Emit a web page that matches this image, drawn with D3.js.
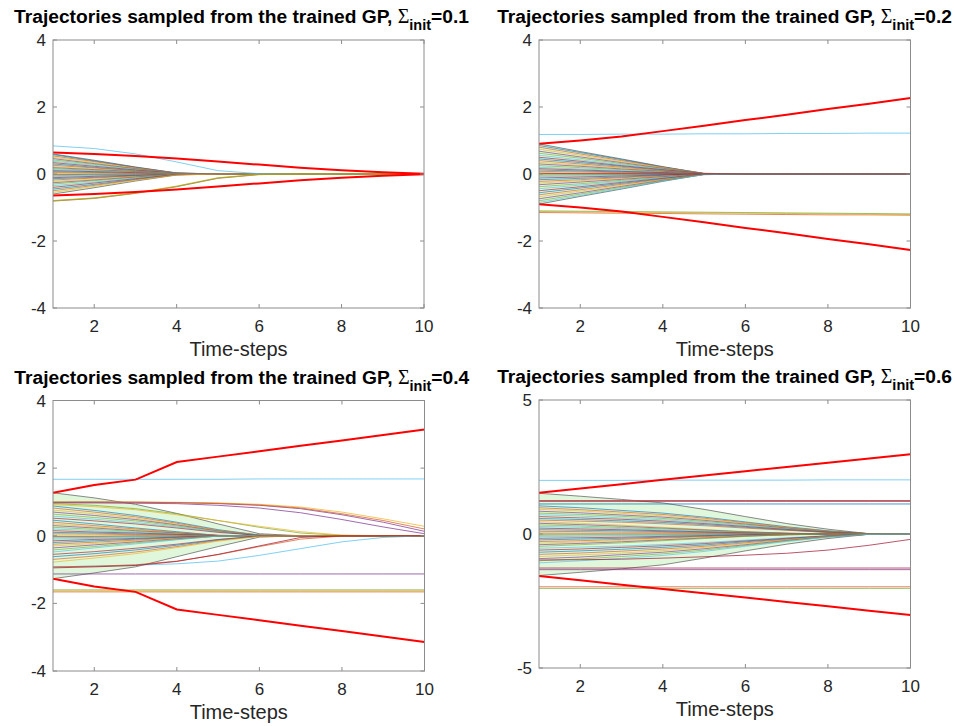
<!DOCTYPE html>
<html>
<head>
<meta charset="utf-8">
<script src="https://cdn.jsdelivr.net/npm/d3@7"></script>
<style>
  body { margin: 0; background: #fff; }
  svg { display: block; }
  text { font-family: "Liberation Sans", Arial, Helvetica, sans-serif; }
</style>
</head>
<body>
<svg id="fig" width="955" height="726"></svg>
<script>
// ---- shared axis data ----
const timeSteps = [1, 2, 3, 4, 5, 6, 7, 8, 9, 10];
const xTicks = [2, 4, 6, 8, 10];
const sigmaInit = ["0.1", "0.2", "0.4", "0.6"];
const yTicksA = [-4, -2, 0, 2, 4];
const yTicksB = [-5, 0, 5];

// ---- panel 1: Sigma_init = 0.1 ----
const p1Bundle = [
  [.58,.39,.2,.03,0,0,0,0,0,0],
  [.54,.37,.19,.03,0,0,0,0,0,0],
  [.5,.34,.17,.02,0,0,0,0,0,0],
  [.46,.31,.16,.02,0,0,0,0,0,0],
  [.42,.29,.15,.02,0,0,0,0,0,0],
  [.38,.26,.13,.02,0,0,0,0,0,0],
  [.34,.23,.12,.02,0,0,0,0,0,0],
  [.3,.2,.1,.01,0,0,0,0,0,0],
  [.26,.18,.09,.01,0,0,0,0,0,0],
  [.22,.15,.08,.01,0,0,0,0,0,0],
  [.19,.13,.07,.01,0,0,0,0,0,0],
  [.16,.11,.06,.01,0,0,0,0,0,0],
  [.13,.09,.05,.01,0,0,0,0,0,0],
  [.1,.07,.04,0,0,0,0,0,0,0],
  [.07,.05,.02,0,0,0,0,0,0,0],
  [.04,.03,.01,0,0,0,0,0,0,0],
  [.01,.01,0,0,0,0,0,0,0,0],
  [-.02,-.01,-.01,0,0,0,0,0,0,0],
  [-.05,-.03,-.02,0,0,0,0,0,0,0],
  [-.08,-.05,-.03,0,0,0,0,0,0,0],
  [-.11,-.07,-.04,-.01,0,0,0,0,0,0],
  [-.14,-.1,-.05,-.01,0,0,0,0,0,0],
  [-.18,-.12,-.06,-.01,0,0,0,0,0,0],
  [-.22,-.15,-.08,-.01,0,0,0,0,0,0],
  [-.26,-.18,-.09,-.01,0,0,0,0,0,0],
  [-.3,-.2,-.1,-.01,0,0,0,0,0,0],
  [-.35,-.24,-.12,-.02,0,0,0,0,0,0],
  [-.4,-.27,-.14,-.02,0,0,0,0,0,0],
  [-.45,-.31,-.16,-.02,0,0,0,0,0,0],
  [-.5,-.34,-.17,-.02,0,0,0,0,0,0],
  [-.55,-.37,-.19,-.03,0,0,0,0,0,0]
];
const p1Extra = [
  [.84,.76,.6,.36,.1,.01,0,0,0,0],
  [-.81,-.73,-.58,-.38,-.13,-.02,0,0,0,0],
  [-.79,-.71,-.56,-.36,-.11,-.01,0,0,0,0],
  [-.8,-.72,-.57,-.37,-.12,-.01,0,0,0,0]
];
const p1ExtraColor = [5, 1, 2, 4];
const p1RedUpper = [.64,.6,.54,.46,.37,.28,.19,.11,.05,.01];
const p1RedLower = [-.64,-.6,-.54,-.46,-.37,-.28,-.19,-.11,-.05,-.01];
const p1FillUpper = [.6,.41,.21,.03,0,0,0,0,0,0];
const p1FillLower = [-.6,-.41,-.21,-.03,0,0,0,0,0,0];

// ---- panel 2: Sigma_init = 0.2 ----
const p2Bundle = [
  [.85,.64,.43,.21,.02,0,0,0,0,0],
  [.8,.6,.4,.2,.02,0,0,0,0,0],
  [.74,.56,.37,.19,.01,0,0,0,0,0],
  [.68,.51,.34,.17,.01,0,0,0,0,0],
  [.62,.47,.31,.16,.01,0,0,0,0,0],
  [.56,.42,.28,.14,.01,0,0,0,0,0],
  [.5,.38,.25,.13,.01,0,0,0,0,0],
  [.45,.34,.23,.11,.01,0,0,0,0,0],
  [.4,.3,.2,.1,.01,0,0,0,0,0],
  [.35,.26,.18,.09,.01,0,0,0,0,0],
  [.3,.23,.15,.08,.01,0,0,0,0,0],
  [.25,.19,.13,.06,0,0,0,0,0,0],
  [.2,.15,.1,.05,0,0,0,0,0,0],
  [.16,.12,.08,.04,0,0,0,0,0,0],
  [.12,.09,.06,.03,0,0,0,0,0,0],
  [.08,.06,.04,.02,0,0,0,0,0,0],
  [.04,.03,.02,.01,0,0,0,0,0,0],
  [0,0,0,0,0,0,0,0,0,0],
  [-.04,-.03,-.02,-.01,0,0,0,0,0,0],
  [-.08,-.06,-.04,-.02,0,0,0,0,0,0],
  [-.12,-.09,-.06,-.03,0,0,0,0,0,0],
  [-.17,-.13,-.09,-.04,0,0,0,0,0,0],
  [-.22,-.17,-.11,-.06,0,0,0,0,0,0],
  [-.27,-.2,-.14,-.07,0,0,0,0,0,0],
  [-.32,-.24,-.16,-.08,-.01,0,0,0,0,0],
  [-.38,-.29,-.19,-.1,-.01,0,0,0,0,0],
  [-.44,-.33,-.22,-.11,-.01,0,0,0,0,0],
  [-.5,-.38,-.25,-.13,-.01,0,0,0,0,0],
  [-.56,-.42,-.28,-.14,-.01,0,0,0,0,0],
  [-.62,-.47,-.31,-.16,-.01,0,0,0,0,0],
  [-.68,-.51,-.34,-.17,-.01,0,0,0,0,0],
  [-.74,-.56,-.37,-.19,-.01,0,0,0,0,0],
  [-.8,-.6,-.4,-.2,-.02,0,0,0,0,0],
  [-.85,-.64,-.43,-.21,-.02,0,0,0,0,0],
  [.02,.01,.01,0,0,0,0,0,0,0]
];
const p2Extra = [
  [1.18,1.18,1.19,1.19,1.2,1.2,1.21,1.21,1.22,1.22],
  [-1.15,-1.16,-1.17,-1.18,-1.19,-1.2,-1.21,-1.22,-1.22,-1.23],
  [-1.12,-1.13,-1.14,-1.15,-1.16,-1.17,-1.18,-1.19,-1.2,-1.21],
  [-1.1,-1.11,-1.12,-1.13,-1.14,-1.15,-1.16,-1.17,-1.18,-1.19]
];
const p2ExtraColor = [5, 1, 2, 4];
const p2RedUpper = [.9,1,1.12,1.28,1.44,1.61,1.77,1.94,2.1,2.27];
const p2RedLower = [-.9,-1,-1.12,-1.28,-1.44,-1.61,-1.77,-1.94,-2.1,-2.27];
const p2FillUpper = [.9,.67,.45,.22,.01,0,0,0,0,0];
const p2FillLower = [-.9,-.67,-.45,-.22,-.01,0,0,0,0,0];

// ---- panel 3: Sigma_init = 0.4 ----
const p3Bundle = [
  [.88,.75,.6,.4,.18,.02,0,0,0,0],
  [.82,.7,.56,.37,.16,.02,0,0,0,0],
  [.76,.65,.52,.34,.15,.02,0,0,0,0],
  [.7,.6,.48,.32,.14,.01,0,0,0,0],
  [.64,.54,.44,.29,.13,.01,0,0,0,0],
  [.58,.49,.39,.26,.12,.01,0,0,0,0],
  [.52,.44,.35,.23,.1,.01,0,0,0,0],
  [.46,.35,.23,.12,.01,0,0,0,0,0],
  [.4,.3,.2,.1,.01,0,0,0,0,0],
  [.35,.26,.18,.09,.01,0,0,0,0,0],
  [.3,.23,.15,.08,.01,0,0,0,0,0],
  [.25,.19,.13,.06,0,0,0,0,0,0],
  [.2,.15,.1,.05,0,0,0,0,0,0],
  [.15,.11,.08,.04,0,0,0,0,0,0],
  [.1,.08,.05,.03,0,0,0,0,0,0],
  [.06,.05,.03,.02,0,0,0,0,0,0],
  [.02,.02,.01,.01,0,0,0,0,0,0],
  [-.02,-.02,-.01,-.01,0,0,0,0,0,0],
  [-.06,-.05,-.03,-.02,0,0,0,0,0,0],
  [-.1,-.08,-.05,-.03,0,0,0,0,0,0],
  [-.15,-.11,-.08,-.04,0,0,0,0,0,0],
  [-.2,-.15,-.1,-.05,0,0,0,0,0,0],
  [-.25,-.19,-.13,-.06,0,0,0,0,0,0],
  [-.3,-.23,-.15,-.08,-.01,0,0,0,0,0],
  [-.36,-.27,-.18,-.09,-.01,0,0,0,0,0],
  [-.42,-.32,-.21,-.11,-.01,0,0,0,0,0],
  [-.48,-.36,-.24,-.12,-.01,0,0,0,0,0],
  [-.55,-.47,-.37,-.25,-.11,-.01,0,0,0,0],
  [-.62,-.53,-.42,-.28,-.12,-.01,0,0,0,0],
  [-.7,-.6,-.48,-.32,-.14,-.01,0,0,0,0],
  [-.78,-.66,-.53,-.35,-.16,-.02,0,0,0,0]
];
const p3Extra = [
  [1,1,.99,.98,.95,.9,.8,.62,.4,.13],
  [1,1,1,.99,.97,.93,.85,.7,.5,.28],
  [.98,.99,.99,.98,.96,.91,.82,.65,.45,.2],
  [.97,.97,.96,.95,.9,.82,.68,.48,.26,.06],
  [.95,.9,.8,.65,.45,.25,.08,.01,0,0],
  [.92,.86,.77,.62,.45,.28,.12,.02,0,0],
  [-.92,-.9,-.87,-.83,-.75,-.58,-.38,-.18,-.05,0],
  [-.92,-.9,-.86,-.75,-.56,-.32,-.1,-.01,0,0],
  [-.95,-.92,-.88,-.76,-.55,-.3,-.05,0,0,0],
  [1.67,1.67,1.67,1.67,1.67,1.68,1.68,1.68,1.68,1.68],
  [-1.13,-1.13,-1.13,-1.13,-1.13,-1.13,-1.13,-1.13,-1.13,-1.13],
  [-1.66,-1.66,-1.66,-1.66,-1.66,-1.66,-1.66,-1.66,-1.66,-1.66],
  [-1.63,-1.63,-1.63,-1.63,-1.63,-1.63,-1.63,-1.63,-1.63,-1.63],
  [-1.6,-1.6,-1.6,-1.6,-1.6,-1.6,-1.6,-1.6,-1.6,-1.6]
];
const p3ExtraColor = [3, 2, 1, 3, 4, 2, 5, 1, 6, 5, 3, 1, 2, 4];
const p3RedUpper = [1.27,1.5,1.66,2.18,2.34,2.5,2.66,2.82,2.98,3.14];
const p3RedLower = [-1.27,-1.5,-1.66,-2.18,-2.34,-2.5,-2.66,-2.82,-2.98,-3.14];
const p3FillUpper = [1.27,1.12,.93,.66,.35,.06,0,0,0,0];
const p3FillLower = [-1.27,-1.1,-.92,-.62,-.32,-.04,0,0,0,0];

// ---- panel 4: Sigma_init = 0.6 ----
const p4Bundle = [
  [1.05,.98,.88,.78,.63,.45,.27,.12,.01,0],
  [.98,.91,.82,.73,.59,.42,.25,.11,.01,0],
  [.92,.86,.77,.68,.55,.4,.24,.1,.01,0],
  [.85,.79,.71,.63,.51,.37,.22,.09,.01,0],
  [.78,.73,.66,.58,.47,.34,.2,.09,.01,0],
  [.72,.67,.6,.53,.43,.31,.19,.08,.01,0],
  [.65,.6,.55,.48,.39,.28,.17,.07,.01,0],
  [.58,.54,.49,.43,.35,.25,.15,.06,.01,0],
  [.52,.48,.44,.38,.31,.22,.14,.06,.01,0],
  [.46,.4,.33,.25,.17,.09,.03,0,0,0],
  [.4,.35,.29,.22,.15,.08,.03,0,0,0],
  [.34,.3,.24,.19,.13,.07,.02,0,0,0],
  [.28,.25,.2,.15,.1,.06,.02,0,0,0],
  [.22,.19,.16,.12,.08,.04,.02,0,0,0],
  [.16,.14,.12,.09,.06,.03,.01,0,0,0],
  [.1,.09,.07,.06,.04,.02,.01,0,0,0],
  [.05,.04,.04,.03,.02,.01,0,0,0,0],
  [0,0,0,0,0,0,0,0,0,0],
  [-.05,-.04,-.04,-.03,-.02,-.01,0,0,0,0],
  [-.1,-.09,-.07,-.06,-.04,-.02,-.01,0,0,0],
  [-.16,-.14,-.12,-.09,-.06,-.03,-.01,0,0,0],
  [-.22,-.19,-.16,-.12,-.08,-.04,-.02,0,0,0],
  [-.28,-.25,-.2,-.15,-.1,-.06,-.02,0,0,0],
  [-.34,-.3,-.24,-.19,-.13,-.07,-.02,0,0,0],
  [-.4,-.35,-.29,-.22,-.15,-.08,-.03,0,0,0],
  [-.46,-.4,-.33,-.25,-.17,-.09,-.03,0,0,0],
  [-.53,-.49,-.45,-.39,-.32,-.23,-.14,-.06,-.01,0],
  [-.6,-.56,-.5,-.44,-.36,-.26,-.16,-.07,-.01,0],
  [-.68,-.63,-.57,-.5,-.41,-.29,-.18,-.07,-.01,0],
  [-.76,-.71,-.64,-.56,-.46,-.33,-.2,-.08,-.01,0],
  [-.84,-.78,-.71,-.62,-.5,-.36,-.22,-.09,-.01,0],
  [-.92,-.86,-.77,-.68,-.55,-.4,-.24,-.1,-.01,0],
  [-1,-.93,-.84,-.74,-.6,-.43,-.26,-.11,-.01,0],
  [-1.08,-1,-.91,-.8,-.65,-.46,-.28,-.12,-.01,0]
];
const p4Extra = [
  [2,2,2,2.01,2.01,2.01,2.01,2.02,2.02,2.02],
  [1.22,1.22,1.22,1.22,1.22,1.22,1.22,1.22,1.22,1.22],
  [1.24,1.24,1.24,1.24,1.24,1.24,1.24,1.24,1.24,1.24],
  [1.25,1.25,1.25,1.25,1.25,1.25,1.25,1.25,1.25,1.25],
  [1.12,1.12,1.12,1.12,1.12,1.12,1.12,1.12,1.12,1.12],
  [-1.33,-1.33,-1.33,-1.33,-1.33,-1.33,-1.33,-1.33,-1.33,-1.33],
  [-1.27,-1.27,-1.27,-1.27,-1.27,-1.27,-1.27,-1.27,-1.27,-1.27],
  [-2.03,-2.03,-2.03,-2.03,-2.03,-2.03,-2.03,-2.03,-2.03,-2.03],
  [-1.97,-1.97,-1.97,-1.97,-1.97,-1.97,-1.97,-1.97,-1.97,-1.97],
  [-.97,-.96,-.94,-.9,-.85,-.79,-.72,-.6,-.42,-.2]
];
const p4ExtraColor = [5, 3, 6, 1, 0, 3, 6, 4, 1, 6];
const p4RedUpper = [1.54,1.7,1.86,2.02,2.18,2.34,2.5,2.66,2.82,2.98];
const p4RedLower = [-1.57,-1.73,-1.89,-2.05,-2.21,-2.37,-2.54,-2.7,-2.86,-3.02];
const p4FillUpper = [1.52,1.41,1.29,1.16,.92,.65,.39,.18,.01,0];
const p4FillLower = [-1.55,-1.43,-1.3,-1.15,-.9,-.63,-.38,-.17,-.01,0];

// MATLAB default line colour order
const palette = ["#0072BD", "#D95319", "#EDB120", "#7E2F8E", "#77AC30", "#4DBEEE", "#A2142F"];

const panels = [
  { sigma: sigmaInit[0], bundle: p1Bundle, extra: p1Extra, extraColor: p1ExtraColor,
    redUp: p1RedUpper, redLo: p1RedLower, fillUp: p1FillUpper, fillLo: p1FillLower,
    yDomain: [-4, 4], yTicks: yTicksA, box: { l: 53, r: 424, t: 40, b: 308 } },
  { sigma: sigmaInit[1], bundle: p2Bundle, extra: p2Extra, extraColor: p2ExtraColor,
    redUp: p2RedUpper, redLo: p2RedLower, fillUp: p2FillUpper, fillLo: p2FillLower,
    yDomain: [-4, 4], yTicks: yTicksA, box: { l: 539, r: 910.5, t: 40, b: 308 } },
  { sigma: sigmaInit[2], bundle: p3Bundle, extra: p3Extra, extraColor: p3ExtraColor,
    redUp: p3RedUpper, redLo: p3RedLower, fillUp: p3FillUpper, fillLo: p3FillLower,
    yDomain: [-4, 4], yTicks: yTicksA, box: { l: 53, r: 424.5, t: 400.5, b: 671 } },
  { sigma: sigmaInit[3], bundle: p4Bundle, extra: p4Extra, extraColor: p4ExtraColor,
    redUp: p4RedUpper, redLo: p4RedLower, fillUp: p4FillUpper, fillLo: p4FillLower,
    yDomain: [-5, 5], yTicks: yTicksB, box: { l: 539, r: 910.5, t: 400, b: 668 } }
];

const svg = d3.select("#fig");
const W = +svg.attr("width");
const axisColor = "#8c8c8c";
const textColor = "#262626";

panels.forEach((p, pi) => {
  const { l, r, t, b } = p.box;
  const x = d3.scaleLinear().domain([1, 10]).range([l, r]);
  const y = d3.scaleLinear().domain(p.yDomain).range([b, t]);
  const g = svg.append("g");

  const clipId = "clip" + pi;
  svg.append("clipPath").attr("id", clipId)
    .append("rect").attr("x", l).attr("y", t).attr("width", r - l).attr("height", b - t);
  const plot = g.append("g").attr("clip-path", `url(#${clipId})`);

  const line = d3.line().x((d, i) => x(timeSteps[i])).y(d => y(d));

  // shaded envelope of the converging trajectories, with its outline
  const area = d3.area()
    .x((d, i) => x(timeSteps[i]))
    .y0((d, i) => y(p.fillLo[i]))
    .y1((d, i) => y(d));
  plot.append("path").attr("d", area(p.fillUp))
    .attr("fill", "#e0f7dc").attr("stroke", "none");
  [p.fillUp, p.fillLo].forEach(row => {
    plot.append("path").attr("d", line(row))
      .attr("fill", "none").attr("stroke", "#3c3c3c").attr("stroke-width", 0.6);
  });

  // sampled trajectories
  p.bundle.forEach((row, i) => {
    plot.append("path").attr("d", line(row))
      .attr("fill", "none").attr("stroke", palette[i % palette.length])
      .attr("stroke-width", 0.7).attr("stroke-opacity", 0.9);
  });
  p.extra.forEach((row, i) => {
    plot.append("path").attr("d", line(row))
      .attr("fill", "none").attr("stroke", palette[p.extraColor[i]])
      .attr("stroke-width", 0.8).attr("stroke-opacity", 0.9);
  });

  // bounds
  [p.redUp, p.redLo].forEach(row => {
    plot.append("path").attr("d", line(row))
      .attr("fill", "none").attr("stroke", "#ff0000").attr("stroke-width", 2);
  });

  // box
  g.append("rect").attr("x", l).attr("y", t).attr("width", r - l).attr("height", b - t)
    .attr("fill", "none").attr("stroke", axisColor).attr("stroke-width", 1);

  const tl = 4;
  xTicks.forEach(v => {
    const xv = x(v);
    g.append("line").attr("x1", xv).attr("x2", xv).attr("y1", b).attr("y2", b - tl)
      .attr("stroke", axisColor);
    g.append("line").attr("x1", xv).attr("x2", xv).attr("y1", t).attr("y2", t + tl)
      .attr("stroke", axisColor);
    g.append("text").attr("x", xv).attr("y", b + 24).attr("text-anchor", "middle")
      .attr("font-size", 17).attr("fill", textColor).text(v);
  });
  p.yTicks.forEach(v => {
    const yv = y(v);
    g.append("line").attr("x1", l).attr("x2", l + tl).attr("y1", yv).attr("y2", yv)
      .attr("stroke", axisColor);
    g.append("line").attr("x1", r).attr("x2", r - tl).attr("y1", yv).attr("y2", yv)
      .attr("stroke", axisColor);
    g.append("text").attr("x", l - 7).attr("y", yv + 6).attr("text-anchor", "end")
      .attr("font-size", 17).attr("fill", textColor).text(v);
  });

  g.append("text").attr("x", (l + r) / 2).attr("y", b + 48).attr("text-anchor", "middle")
    .attr("font-size", 20).attr("fill", textColor).text("Time-steps");

  // title, centred over the axes but kept inside the figure
  const title = g.append("text").attr("x", (l + r) / 2 + 3).attr("y", t - 17)
    .attr("text-anchor", "middle").attr("font-size", 19.2).attr("font-weight", "bold")
    .attr("fill", "#000");
  title.append("tspan").text("Trajectories sampled from the trained GP, ");
  title.append("tspan").attr("font-weight", "normal").attr("font-family", "'Liberation Serif', 'DejaVu Serif', serif")
    .attr("font-size", 20).text("\u03A3");
  title.append("tspan").attr("font-size", 14.5).attr("dy", 7).text("init");
  title.append("tspan").attr("dy", -7).text("=" + p.sigma);
  const bb = title.node().getBBox();
  const overflow = bb.x + bb.width - (W - 3);
  if (overflow > 0) title.attr("x", (l + r) / 2 + 3 - overflow);
});
</script>
</body>
</html>
